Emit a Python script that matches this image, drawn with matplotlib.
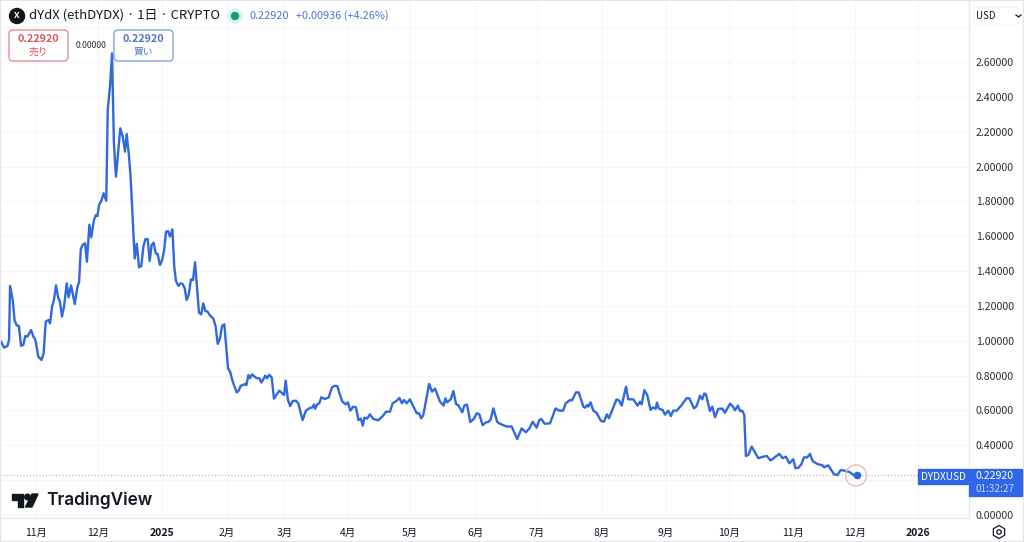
import matplotlib
matplotlib.use("Agg")
import matplotlib.pyplot as plt
from matplotlib.patches import Circle, FancyBboxPatch, Polygon, Rectangle, RegularPolygon

plt.rcParams['font.family'] = ['Noto Sans CJK JP', 'DejaVu Sans']

# x is in bars from the 2024-11 gridline
days = [
    -16.5, -15, -13.4, -12.6, -12.1, -10.8, -9.9, -8.9, -7.8, -6.8, -5.7, -4.7, -3.7, -1.9, -0.8, 0.2, 1.6, 3.2, 4.2, 5.2,
    6.5, 7.3, 8.3, 9.2, 10.2, 11.2, 12.1, 13.1, 14.1, 15.4, 16.3, 17.5, 19.3, 20.6, 21.4, 22.2, 23.1, 24.3, 25.2, 26.4,
    27.3, 28.6, 29.6, 30.3, 31.1, 32.2, 33.3, 34.6, 35.3, 36.4, 37.4, 38.3, 39.3, 41.4, 42.6, 43.7, 44.5, 45.5, 46.4, 48.4,
    49.4, 50.5, 51.6, 52.6, 53.6, 54.7, 55.7, 56.6, 57.6, 58.6, 59.5, 60.7, 61.7, 62.6, 63.6, 64.6, 65.5, 66.7, 67.6, 68.4,
    69.6, 70.6, 71.7, 72.7, 73.6, 74.6, 75.7, 76.7, 77.7, 79.6, 80.7, 81.7, 82.7, 83.8, 84.8, 86.6, 87.7, 88.7, 89.8, 90.8,
    91.9, 93.7, 94.7, 96, 97.9, 98.9, 99.8, 102, 102.6, 103.6, 104.4, 105.3, 107.6, 108.9, 109.9, 111.8, 112.6, 113.7, 114.9, 116,
    118.6, 120.9, 121.7, 122.8, 123.9, 125.1, 126.7, 127.8, 129.9, 131.5, 133.5, 134.8, 135.4, 136, 137, 138, 139, 140.6, 142.5, 144.2,
    145.6, 146.8, 147.7, 149.2, 150.9, 151.9, 153.1, 154.5, 155.8, 157, 158.2, 159.1, 159.9, 161.2, 162.6, 164.2, 166.7, 169.1, 170.4, 172.3,
    173.6, 175.6, 176.9, 178.1, 179.1, 180.4, 182, 185.3, 186.4, 187.5, 188.5, 191.3, 192.7, 194.2, 196.6, 198.4, 199.2, 200, 201.8, 203.1,
    204.4, 205.5, 207.4, 208.4, 209.7, 211.3, 213.1, 214.4, 215.7, 217.3, 218.9, 220.1, 221.2, 222.5, 224.4, 225.7, 228.9, 231.4, 232.5, 234.1,
    236.2, 238.3, 240, 241.6, 243.5, 244.8, 245.8, 247.4, 250, 252.7, 254.5, 256.4, 257.6, 259.7, 260.7, 262.6, 263.9, 266.2, 267, 268,
    268.6, 269.7, 271, 272.6, 274.7, 276.2, 277.6, 278.6, 282.3, 283.6, 284.8, 286.9, 288, 290.4, 292.5, 293.7, 294.5, 295.8, 297.2, 298.8,
    300.1, 301.3, 301.9, 302.9, 304.7, 305.8, 307.4, 308.7, 309.8, 311.5, 313.9, 316.3, 317.6, 319.9, 321.2, 322.8, 323.9, 324.9, 325.7, 327.6,
    328.8, 330.1, 331.7, 333.6, 334.9, 337.4, 338.6, 339.8, 341.2, 342.2, 343.3, 344.3, 345.1, 346.3, 347.9, 351.1, 353.5, 355.2, 357.1, 361.3,
    362.9, 364.5, 366.2, 368.1, 369.2, 370.7, 372.1, 373.3, 374.9, 376.2, 377.5, 379.7, 382.3, 383, 385.1, 387.8, 389.5, 391.1, 393.2, 395.3,
    397.6, 398.9,
]
prices = [
    0.995, 0.961, 0.970, 1.005, 1.315, 1.234, 1.116, 1.089, 1.085, 0.972, 0.976, 1.028, 1.024, 1.062, 1.024, 1.005, 0.909, 0.890, 0.928, 1.110,
    1.119, 1.100, 1.196, 1.234, 1.318, 1.250, 1.225, 1.139, 1.196, 1.330, 1.250, 1.318, 1.211, 1.311, 1.336, 1.525, 1.550, 1.560, 1.454, 1.667,
    1.594, 1.693, 1.722, 1.716, 1.780, 1.804, 1.847, 1.804, 2.325, 2.459, 2.650, 2.134, 1.942, 2.220, 2.172, 2.086, 2.187, 2.076, 1.942, 1.473,
    1.556, 1.422, 1.429, 1.540, 1.584, 1.584, 1.458, 1.550, 1.563, 1.502, 1.498, 1.435, 1.464, 1.512, 1.626, 1.630, 1.598, 1.640, 1.425, 1.345,
    1.315, 1.330, 1.326, 1.301, 1.234, 1.263, 1.353, 1.349, 1.451, 1.161, 1.152, 1.215, 1.171, 1.167, 1.148, 1.127, 1.081, 0.982, 1.014, 1.085,
    1.095, 0.842, 0.823, 0.765, 0.704, 0.714, 0.741, 0.752, 0.745, 0.804, 0.785, 0.807, 0.785, 0.785, 0.760, 0.800, 0.785, 0.805, 0.790, 0.668,
    0.714, 0.689, 0.771, 0.660, 0.625, 0.654, 0.656, 0.641, 0.545, 0.599, 0.615, 0.618, 0.635, 0.610, 0.635, 0.641, 0.676, 0.666, 0.674, 0.733,
    0.742, 0.739, 0.702, 0.651, 0.635, 0.647, 0.599, 0.622, 0.618, 0.545, 0.553, 0.513, 0.559, 0.553, 0.578, 0.551, 0.544, 0.572, 0.593, 0.593,
    0.641, 0.656, 0.672, 0.641, 0.660, 0.641, 0.664, 0.584, 0.584, 0.555, 0.574, 0.752, 0.708, 0.725, 0.651, 0.628, 0.670, 0.647, 0.664, 0.712,
    0.637, 0.630, 0.590, 0.628, 0.634, 0.534, 0.553, 0.584, 0.578, 0.515, 0.532, 0.534, 0.549, 0.612, 0.534, 0.524, 0.508, 0.508, 0.478, 0.436,
    0.497, 0.475, 0.497, 0.536, 0.501, 0.545, 0.551, 0.524, 0.526, 0.612, 0.599, 0.599, 0.641, 0.660, 0.658, 0.704, 0.704, 0.622, 0.616, 0.631,
    0.622, 0.647, 0.599, 0.587, 0.540, 0.536, 0.578, 0.555, 0.664, 0.656, 0.628, 0.737, 0.664, 0.664, 0.628, 0.650, 0.635, 0.717, 0.689, 0.603,
    0.618, 0.610, 0.645, 0.610, 0.603, 0.576, 0.599, 0.568, 0.599, 0.599, 0.631, 0.670, 0.670, 0.612, 0.626, 0.685, 0.664, 0.698, 0.693, 0.597,
    0.622, 0.561, 0.609, 0.611, 0.587, 0.639, 0.626, 0.601, 0.628, 0.597, 0.599, 0.574, 0.339, 0.345, 0.393, 0.326, 0.335, 0.339, 0.313, 0.351,
    0.326, 0.335, 0.297, 0.320, 0.268, 0.272, 0.293, 0.331, 0.331, 0.351, 0.310, 0.293, 0.285, 0.274, 0.285, 0.235, 0.229, 0.258, 0.254, 0.247,
    0.228, 0.2292,
]

month_pos = [0.3, 30.4, 61.5, 93, 121, 152.1, 182, 213.6, 243.5, 275, 306.1, 336.7, 367.8, 398.3, 428.7]
month_labels = ["11月", "12月", "2025", "2月", "3月", "4月", "5月", "6月", "7月", "8月", "9月", "10月", "11月", "12月", "2026"]
price_ticks = [0.0, 0.2, 0.4, 0.6, 0.8, 1.0, 1.2, 1.4, 1.6, 1.8, 2.0, 2.2, 2.4, 2.6, 2.8]
# 0.2 sits under the last-price label and 2.8 has a gridline but no label
price_labels = ["0.00000", "", "0.40000", "0.60000", "0.80000", "1.00000", "1.20000", "1.40000",
                "1.60000", "1.80000", "2.00000", "2.20000", "2.40000", "2.60000", ""]

last_price = 0.2292
BLUE = "#3068e0"
TEXT = "#131722"
GRID = "#f5f6f9"

fig = plt.figure(figsize=(10.24, 5.42), dpi=100, facecolor="white")

# Main pane: 969 px wide, ends at the time scale (y=518)
ax = fig.add_axes([0, 24 / 542, 969 / 1024, 518 / 542])
ax.set_xlim(-35 / 2.06, 934 / 2.06)
ax.set_ylim(-3 / 174.2, 515 / 174.2)
ax.plot(days, prices, color=BLUE, lw=1.7, solid_joinstyle="round", zorder=3)
ax.axhline(last_price, color="#b9bcc6", lw=0.9, ls=(0, (1, 1.6)), xmax=918 / 969, zorder=2)
ax.plot(days[-1], prices[-1], "o", color=BLUE, ms=4.5, zorder=4)

ax.set_xticks(month_pos)
ax.set_xticklabels(month_labels, fontsize=7.5, color=TEXT)
for lab in ax.get_xticklabels():
    if lab.get_text() in ("2025", "2026"):
        lab.set_fontweight("bold")
ax.set_yticks(price_ticks)
ax.set_yticklabels(price_labels, fontsize=7.6, color="#2a2e39")
ax.yaxis.tick_right()
ax.tick_params(axis="both", length=0)
ax.tick_params(axis="y", pad=5)
ax.tick_params(axis="x", pad=7)
ax.grid(True, color=GRID, lw=0.8, zorder=0)
for name, sp in ax.spines.items():
    sp.set_visible(name in ("bottom", "right"))
    sp.set_color("#e6e8ec")
    sp.set_linewidth(1)

# Overlay in picture pixels for the header, labels and logo
ov = fig.add_axes([0, 0, 1, 1], zorder=5)
ov.set_xlim(0, 1024)
ov.set_ylim(542, 0)
ov.axis("off")
ov.patch.set_alpha(0)

ov.add_patch(Rectangle((0, 0), 1024, 542, fill=False, ec="#e4e5e9", lw=1.5))

# Header
ov.add_patch(Circle((17, 16), 7.5, color="#14151a"))
ov.text(17, 15.6, "X", color="white", fontsize=6.5, fontweight="bold", ha="center", va="center")
ov.text(29, 15.5, "dYdX (ethDYDX) · 1日 · CRYPTO", fontsize=9.4, color=TEXT, va="center")
ov.add_patch(Circle((235, 16), 7, color="#d8f1ea"))
ov.add_patch(Circle((235, 16), 3.5, color="#159a80"))
ov.text(250, 16, "0.22920", fontsize=7.9, color="#4c74cf", va="center")
ov.text(296, 16, "+0.00936 (+4.26%)", fontsize=7.9, color="#4c74cf", va="center")


def order_box(x, colour, label):
    ov.add_patch(FancyBboxPatch((x + 3, 33), 53, 25, boxstyle="round,pad=3,rounding_size=4",
                                fc="white", ec=colour, lw=0.9, alpha=0.75, zorder=6))
    ov.text(x + 29.5, 39.5, "0.22920", fontsize=7.8, fontweight="bold", color=colour, ha="center", va="center", zorder=7)
    ov.text(x + 29.5, 51.5, label, fontsize=7, color=colour, ha="center", va="center", zorder=7)


order_box(9, "#d9575f", "売り")
ov.text(91, 45, "0.00000", fontsize=6.2, color="#2a2e39", ha="center", va="center")
order_box(114, "#4a76d0", "買い")

# Currency selector
ov.add_patch(FancyBboxPatch((974, 7), 44, 18, boxstyle="round,pad=0,rounding_size=3", fc="white", ec="#f3f4f6", lw=0.8))
ov.text(976, 16, "USD", fontsize=7, color=TEXT, va="center")
ov.plot([1016, 1018.5, 1021], [15, 17, 15], color=TEXT, lw=0.9)

# Last-price marker and labels
ov.add_patch(Circle((856, 475.5), 10.5, fc="none", ec="#edb9b9", lw=1))
ov.add_patch(Rectangle((918, 469), 50, 15, color="#2f66e8", zorder=6))
ov.text(943, 476.5, "DYDXUSD", fontsize=7.2, color="white", ha="center", va="center", zorder=7)
ov.add_patch(Rectangle((969, 469), 53, 27, color="#2f66e8", zorder=6))
ov.text(995, 476, "0.22920", fontsize=7.6, color="white", ha="center", va="center", zorder=7)
ov.text(995, 489.5, "01:32:27", fontsize=7.2, color="#c9d8fb", ha="center", va="center", zorder=7)

# TradingView logo
ov.add_patch(Polygon([(12, 494), (23, 494), (23, 507), (18, 507), (18, 500), (12, 500)], color="#131722"))
ov.add_patch(Circle((27.5, 497), 2.8, color="#131722"))
ov.add_patch(Polygon([(32, 494), (38, 494), (32, 507), (25.5, 507)], color="#131722"))
ov.text(46, 500.5, "TradingView", fontsize=12.4, family="Inter", fontweight="semibold", color="#131722", va="center")

# Settings icon
ov.add_patch(RegularPolygon((999, 532), 6, radius=6.5, fc="none", ec=TEXT, lw=0.9))
ov.add_patch(Circle((999, 532), 2.2, fc="none", ec=TEXT, lw=0.9))

fig.savefig("out.png", dpi=100)
